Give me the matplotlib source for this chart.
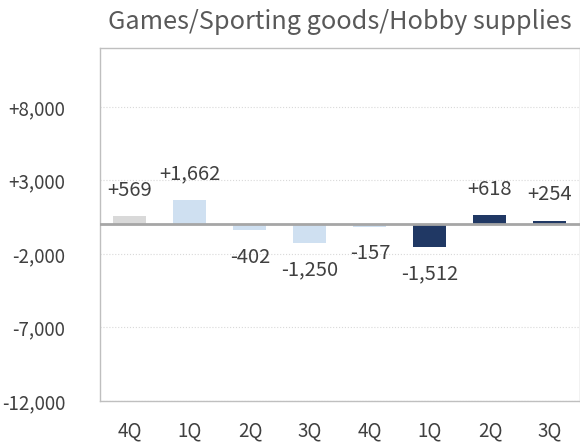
import numpy as np
import matplotlib.pyplot as plt

plt.rcParams['font.family'] = ['Noto Sans CJK JP', 'DejaVu Sans']

# データ
quarters = ['4Q', '1Q', '2Q', '3Q', '4Q', '1Q', '2Q', '3Q']
values = [569, 1662, -402, -1250, -157, -1512, 618, 254]
bar_colors = ['#d9d9d9', '#cfe0f1', '#cfe0f1', '#cfe0f1', '#cfe0f1',
              '#203864', '#203864', '#203864']
yticks = [-12000, -7000, -2000, 3000, 8000]
title = 'Games/Sporting goods/Hobby supplies'

fig = plt.figure(figsize=(5.8, 4.45), dpi=100)
ax = fig.add_axes([0.1724, 0.0989, 0.8276, 0.7933])

x = np.arange(len(values))
ax.bar(x, values, width=0.55, color=bar_colors, zorder=2)
ax.axhline(0, color='#a6a6a6', linewidth=2, zorder=3)

for xi, v in zip(x, values):
    label = f'{v:+,}'
    if v >= 0:
        ax.annotate(label, (xi, v), xytext=(0, 11), textcoords='offset points',
                    ha='center', va='bottom', fontsize=14.5, color='#404040')
    else:
        ax.annotate(label, (xi, v), xytext=(0, -12), textcoords='offset points',
                    ha='center', va='top', fontsize=14.5, color='#404040')

ax.set_xlim(-0.5, len(values) - 0.5)
ax.set_ylim(-12000, 12000)
ax.set_yticks(yticks)
ax.set_yticklabels([f'{t:+,}' if t > 0 else f'{t:,}' for t in yticks])
ax.set_xticks(x)
ax.set_xticklabels(quarters)
ax.tick_params(axis='both', length=0, labelsize=13.5, labelcolor='#404040')
ax.tick_params(axis='y', pad=25)
ax.tick_params(axis='x', pad=14)
ax.grid(axis='y', color='#d9d9d9', linestyle=':', linewidth=0.8, zorder=0)

for spine in ax.spines.values():
    spine.set_color('#bfbfbf')
    spine.set_linewidth(1)

ax.set_title(title, fontsize=18.2, color='#595959', pad=14)

plt.savefig('out.png', dpi=100)
